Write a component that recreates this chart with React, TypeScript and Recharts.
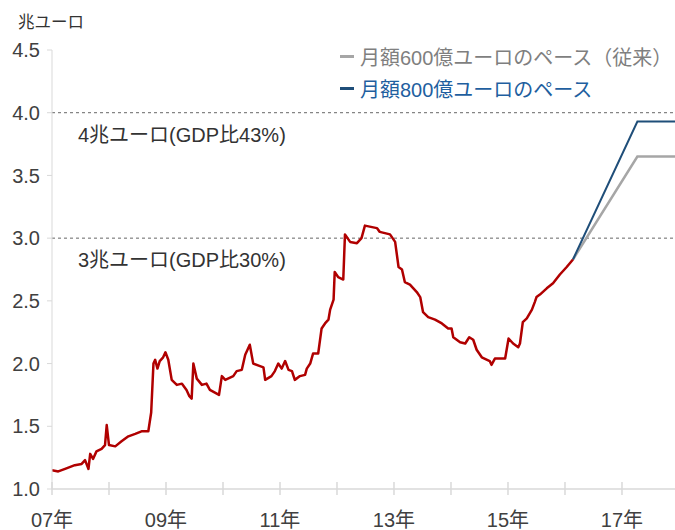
import { LineChart, Line, XAxis, YAxis, ReferenceLine } from 'recharts';

// ECB balance sheet, trillion euro, x = year fraction
const years = [
  2007.0, 2007.11, 2007.23, 2007.4, 2007.52, 2007.58, 2007.64, 2007.67, 2007.72, 2007.78,
  2007.87, 2007.93, 2007.96, 2008.0, 2008.11, 2008.22, 2008.34, 2008.46, 2008.57, 2008.69,
  2008.74, 2008.78, 2008.81, 2008.85, 2008.89, 2008.95, 2008.99, 2009.04, 2009.1, 2009.19,
  2009.28, 2009.36, 2009.41, 2009.45, 2009.48, 2009.54, 2009.63, 2009.71, 2009.77, 2009.89,
  2009.93, 2009.98, 2010.04, 2010.18, 2010.24, 2010.33, 2010.39, 2010.47, 2010.53, 2010.65,
  2010.71, 2010.74, 2010.85, 2010.91, 2010.97, 2011.03, 2011.09, 2011.15, 2011.21, 2011.26,
  2011.35, 2011.44, 2011.47, 2011.53, 2011.58, 2011.67, 2011.73, 2011.79, 2011.85, 2011.88,
  2011.94, 2011.96, 2012.02, 2012.11, 2012.14, 2012.23, 2012.35, 2012.43, 2012.49, 2012.7,
  2012.75, 2012.93, 2013.02, 2013.08, 2013.14, 2013.19, 2013.28, 2013.34, 2013.4, 2013.46,
  2013.51, 2013.6, 2013.72, 2013.84, 2013.95, 2014.01, 2014.04, 2014.16, 2014.25, 2014.32,
  2014.39, 2014.45, 2014.54, 2014.68, 2014.71, 2014.77, 2014.89, 2014.95, 2015.01, 2015.09,
  2015.18, 2015.21, 2015.26, 2015.33, 2015.42, 2015.47, 2015.5, 2015.56, 2015.68, 2015.79,
  2015.91, 2016.03, 2016.14,
];
const balance = [
  1.15, 1.14, 1.16, 1.19, 1.2, 1.23, 1.16, 1.28, 1.24, 1.3,
  1.32, 1.35, 1.51, 1.35, 1.34, 1.38, 1.42, 1.44, 1.46, 1.46,
  1.61, 2.0, 2.03, 1.96, 2.02, 2.05, 2.09, 2.03, 1.87, 1.83,
  1.84, 1.79, 1.74, 1.72, 2.0, 1.88, 1.83, 1.84, 1.79, 1.76,
  1.75, 1.9, 1.87, 1.9, 1.94, 1.95, 2.07, 2.15, 2.0, 1.98,
  1.97, 1.87, 1.9, 1.94, 2.0, 1.96, 2.02, 1.95, 1.94, 1.87,
  1.9, 1.91, 1.96, 2.0, 2.08, 2.08, 2.28, 2.32, 2.35, 2.43,
  2.51, 2.73, 2.69, 2.67, 3.03, 2.97, 2.96, 3.0, 3.1, 3.08,
  3.05, 3.03, 2.97, 2.77, 2.75, 2.65, 2.63, 2.6, 2.57, 2.53,
  2.41, 2.37, 2.35, 2.32, 2.28, 2.28, 2.21, 2.17, 2.16, 2.21,
  2.19, 2.11, 2.05, 2.02, 1.99, 2.04, 2.04, 2.04, 2.2, 2.16,
  2.13, 2.16, 2.33, 2.36, 2.43, 2.49, 2.53, 2.55, 2.6, 2.64,
  2.71, 2.77, 2.83,
];

const projYears = [2016.14, 2017.27, 2017.93];
const pace600 = [2.83, 3.65, 3.65];
const pace800 = [2.83, 3.93, 3.93];

const yTicks = [1.0, 1.5, 2.0, 2.5, 3.0, 3.5, 4.0, 4.5];
const xTicks = [2007, 2008, 2009, 2010, 2011, 2012, 2013, 2014, 2015, 2016, 2017];
const xLabels: Record<number, string> = {
  2007: '07年', 2009: '09年', 2011: '11年', 2013: '13年', 2015: '15年', 2017: '17年',
};

const actual = years.map((x, i) => ({ x, v: balance[i] }));
const proj600 = projYears.map((x, i) => ({ x, v: pace600[i] }));
const proj800 = projYears.map((x, i) => ({ x, v: pace800[i] }));

const FONT = '"Liberation Sans", Arial, "Noto Sans CJK JP", sans-serif';

function XTick(props: any) {
  const { x, y, payload } = props;
  const label = xLabels[payload.value] ?? '';
  return (
    <g>
      <line x1={x} x2={x} y1={y - 7} y2={y + 6} stroke="#d9d9d9" strokeWidth={1.5} />
      <text x={x} y={y + 38} textAnchor="middle" fill="#404040" fontSize={20} fontFamily={FONT}>
        {label}
      </text>
    </g>
  );
}

export default function App() {
  return (
    <div style={{ position: 'absolute', left: 0, top: 0, width: 675, height: 530, background: '#fff', fontFamily: FONT }}>
      <LineChart width={675} height={530} margin={{ top: 50, right: 0, bottom: 0, left: 0 }}>
        <XAxis
          dataKey="x"
          type="number"
          domain={[2007, 2017.93]}
          ticks={xTicks}
          allowDataOverflow
          stroke="#d9d9d9"
          strokeWidth={1.5}
          tickLine={false}
          tickSize={0}
          tickMargin={0}
          tick={<XTick />}
          height={41}
        />
        <YAxis
          type="number"
          domain={[1.0, 4.5]}
          ticks={yTicks}
          width={52}
          stroke="#d9d9d9"
          tickSize={5}
          tickMargin={7}
          tickFormatter={(v: number) => v.toFixed(1)}
          tick={{ fill: '#404040', fontSize: 20, fontFamily: FONT }}
        />
        <ReferenceLine y={4.0} stroke="#666" strokeDasharray="3 3" />
        <ReferenceLine y={3.0} stroke="#666" strokeDasharray="3 3" />
        <Line data={proj600} dataKey="v" stroke="#a6a6a6" strokeWidth={2.5} dot={false} isAnimationActive={false} />
        <Line data={proj800} dataKey="v" stroke="#1f4e79" strokeWidth={2} dot={false} isAnimationActive={false} />
        <Line data={actual} dataKey="v" stroke="#b00000" strokeWidth={2.5} dot={false} isAnimationActive={false} strokeLinejoin="round" />
      </LineChart>

      <div style={{ position: 'absolute', left: 18, top: 9, fontSize: 16.5, color: '#333' }}>兆ユーロ</div>
      <div style={{ position: 'absolute', left: 78, top: 119, fontSize: 20, color: '#333' }}>4兆ユーロ(GDP比43%)</div>
      <div style={{ position: 'absolute', left: 78, top: 244, fontSize: 20, color: '#333' }}>3兆ユーロ(GDP比30%)</div>

      <div style={{ position: 'absolute', left: 340, top: 42, display: 'flex', alignItems: 'center', fontSize: 20, color: '#7f7f7f', whiteSpace: 'nowrap' }}>
        <span style={{ display: 'inline-block', width: 14, height: 3, background: '#a6a6a6', marginRight: 6 }} />
        月額600億ユーロのペース（従来）
      </div>
      <div style={{ position: 'absolute', left: 340, top: 74, display: 'flex', alignItems: 'center', fontSize: 20, color: '#1f5f9f', whiteSpace: 'nowrap' }}>
        <span style={{ display: 'inline-block', width: 14, height: 3, background: '#1f4e79', marginRight: 6 }} />
        月額800億ユーロのペース
      </div>
    </div>
  );
}
